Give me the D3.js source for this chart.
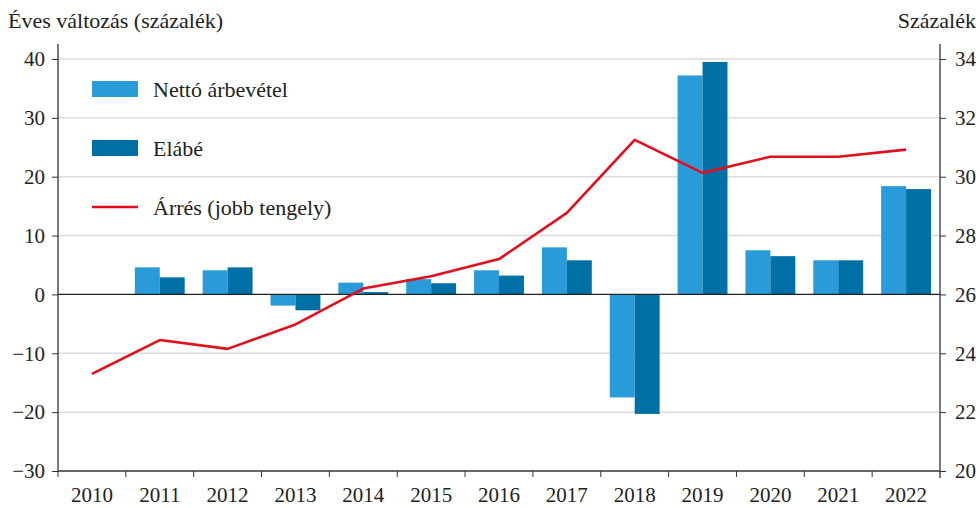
<!DOCTYPE html>
<html>
<head>
<meta charset="utf-8">
<script src="https://cdn.jsdelivr.net/npm/d3@7"></script>
<style>
  body { margin: 0; background: #fff; }
  svg text { font-family: "Liberation Serif", "DejaVu Serif", serif; fill: #222; }
</style>
</head>
<body>
<svg id="chart" width="980" height="508"></svg>
<script>
// data
var years = ["2010","2011","2012","2013","2014","2015","2016","2017","2018","2019","2020","2021","2022"];
var netto = [null, 4.6, 4.1, -1.9, 2.0, 2.6, 4.1, 8.0, -17.5, 37.2, 7.5, 5.8, 18.4];
var elabe = [null, 2.9, 4.6, -2.7, 0.4, 1.9, 3.2, 5.8, -20.3, 39.5, 6.5, 5.8, 17.9];
var arres = [23.3, 24.45, 24.15, 24.98, 26.2, 26.62, 27.2, 28.77, 31.25, 30.13, 30.68, 30.68, 30.92];
var leftTicks = [-30, -20, -10, 0, 10, 20, 30, 40];
var rightTicks = [20, 22, 24, 26, 28, 30, 32, 34];
var seriesNames = ["Nettó árbevétel", "Elábé", "Árrés (jobb tengely)"];

var colors = { netto: "#289bd8", elabe: "#0070a7", arres: "#e20e1b" };

var margin = { left: 58, right: 40, top: 59, bottom: 37 }
  , width = 980
  , height = 508
  , fontSize = 22
  , tickFont = 21;

var svg = d3.select("#chart");

var x0 = d3.scaleBand()
  .domain(years)
  .range([margin.left, width - margin.right])
  .padding(0);

var x1 = d3.scaleBand()
  .domain(["netto", "elabe"])
  .range([0, x0.bandwidth()])
  .paddingInner(0)
  .paddingOuter(0.36);

var yL = d3.scaleLinear().domain([-30, 40]).range([height - margin.bottom, margin.top]);
var yR = d3.scaleLinear().domain([20, 34]).range([height - margin.bottom, margin.top]);

// gridlines
svg.append("g")
  .selectAll("line")
  .data(leftTicks.filter(d => d != 0 && d != -30))
  .enter().append("line")
  .attr("x1", margin.left).attr("x2", width - margin.right)
  .attr("y1", d => yL(d)).attr("y2", d => yL(d))
  .attr("stroke", "#dcdcdc").attr("stroke-width", 1.5);

// bars
var barData = [];
years.forEach(function(y, i){
  if (netto[i] != null) barData.push({ year: y, key: "netto", value: netto[i] });
  if (elabe[i] != null) barData.push({ year: y, key: "elabe", value: elabe[i] });
});

svg.append("g")
  .selectAll("rect")
  .data(barData)
  .enter().append("rect")
  .attr("x", d => x0(d.year) + x1(d.key))
  .attr("width", x1.bandwidth())
  .attr("y", d => yL(Math.max(0, d.value)))
  .attr("height", d => Math.abs(yL(d.value) - yL(0)))
  .attr("fill", d => colors[d.key]);

// zero line
svg.append("line")
  .attr("x1", margin.left).attr("x2", width - margin.right)
  .attr("y1", yL(0)).attr("y2", yL(0))
  .attr("stroke", "#222").attr("stroke-width", 1.3);

// line
var line = d3.line()
  .x((d, i) => x0(years[i]) + x0.bandwidth() / 2)
  .y(d => yR(d));

svg.append("path")
  .datum(arres)
  .attr("d", line)
  .attr("fill", "none")
  .attr("stroke", colors.arres)
  .attr("stroke-width", 2.6)
  .attr("stroke-linejoin", "round");

// axes
var axisColor = "#333";

var gL = svg.append("g")
  .attr("transform", "translate(" + margin.left + ",0)")
  .call(d3.axisLeft(yL).tickValues(leftTicks).tickSize(6).tickPadding(7)
    .tickFormat(d => d < 0 ? "\u2212" + Math.abs(d) : d));
gL.select(".domain").attr("d", "M0," + (margin.top - 15) + "V" + yL(-30));

var gR = svg.append("g")
  .attr("transform", "translate(" + (width - margin.right) + ",0)")
  .call(d3.axisRight(yR).tickValues(rightTicks).tickSize(6).tickPadding(9));
gR.select(".domain").attr("d", "M0," + (margin.top - 15) + "V" + (yR(20) + 7));

var gX = svg.append("g")
  .attr("transform", "translate(0," + yL(-30) + ")")
  .call(d3.axisBottom(x0).tickSize(0).tickPadding(16));
gX.select(".domain").attr("d", "M" + margin.left + ",0H" + (width - margin.right));

// tick marks at band boundaries
gX.append("g")
  .selectAll("line")
  .data(years.slice(1))
  .enter().append("line")
  .attr("x1", d => x0(d)).attr("x2", d => x0(d))
  .attr("y1", 0).attr("y2", 6)
  .attr("stroke", axisColor);
gX.append("line")
  .attr("x1", margin.left).attr("x2", margin.left)
  .attr("y1", 0).attr("y2", 6)
  .attr("stroke", axisColor);

[gL, gR, gX].forEach(function(g){
  g.selectAll(".domain").attr("stroke", axisColor).attr("stroke-width", 1.3);
  g.selectAll(".tick line").attr("stroke", axisColor);
  g.selectAll("text").attr("font-size", tickFont).attr("fill", "#222")
    .style("font-family", '"Liberation Serif", serif');
});

// axis titles
svg.append("text")
  .attr("x", 8).attr("y", 28)
  .attr("font-size", fontSize)
  .text("Éves változás (százalék)");

svg.append("text")
  .attr("x", 976).attr("y", 28)
  .attr("text-anchor", "end")
  .attr("font-size", fontSize)
  .text("Százalék");

// legend
var legend = svg.append("g");
var legendY = [89, 148, 207];

legend.append("rect")
  .attr("x", 92).attr("y", legendY[0] - 8).attr("width", 46).attr("height", 16)
  .attr("fill", colors.netto);
legend.append("rect")
  .attr("x", 92).attr("y", legendY[1] - 8).attr("width", 46).attr("height", 16)
  .attr("fill", colors.elabe);
legend.append("line")
  .attr("x1", 92).attr("x2", 138)
  .attr("y1", legendY[2]).attr("y2", legendY[2])
  .attr("stroke", colors.arres).attr("stroke-width", 2.6);

legend.selectAll("text")
  .data(seriesNames)
  .enter().append("text")
  .attr("x", 153)
  .attr("y", (d, i) => legendY[i])
  .attr("dy", "0.35em")
  .attr("font-size", fontSize)
  .text(d => d);
</script>
</body>
</html>
